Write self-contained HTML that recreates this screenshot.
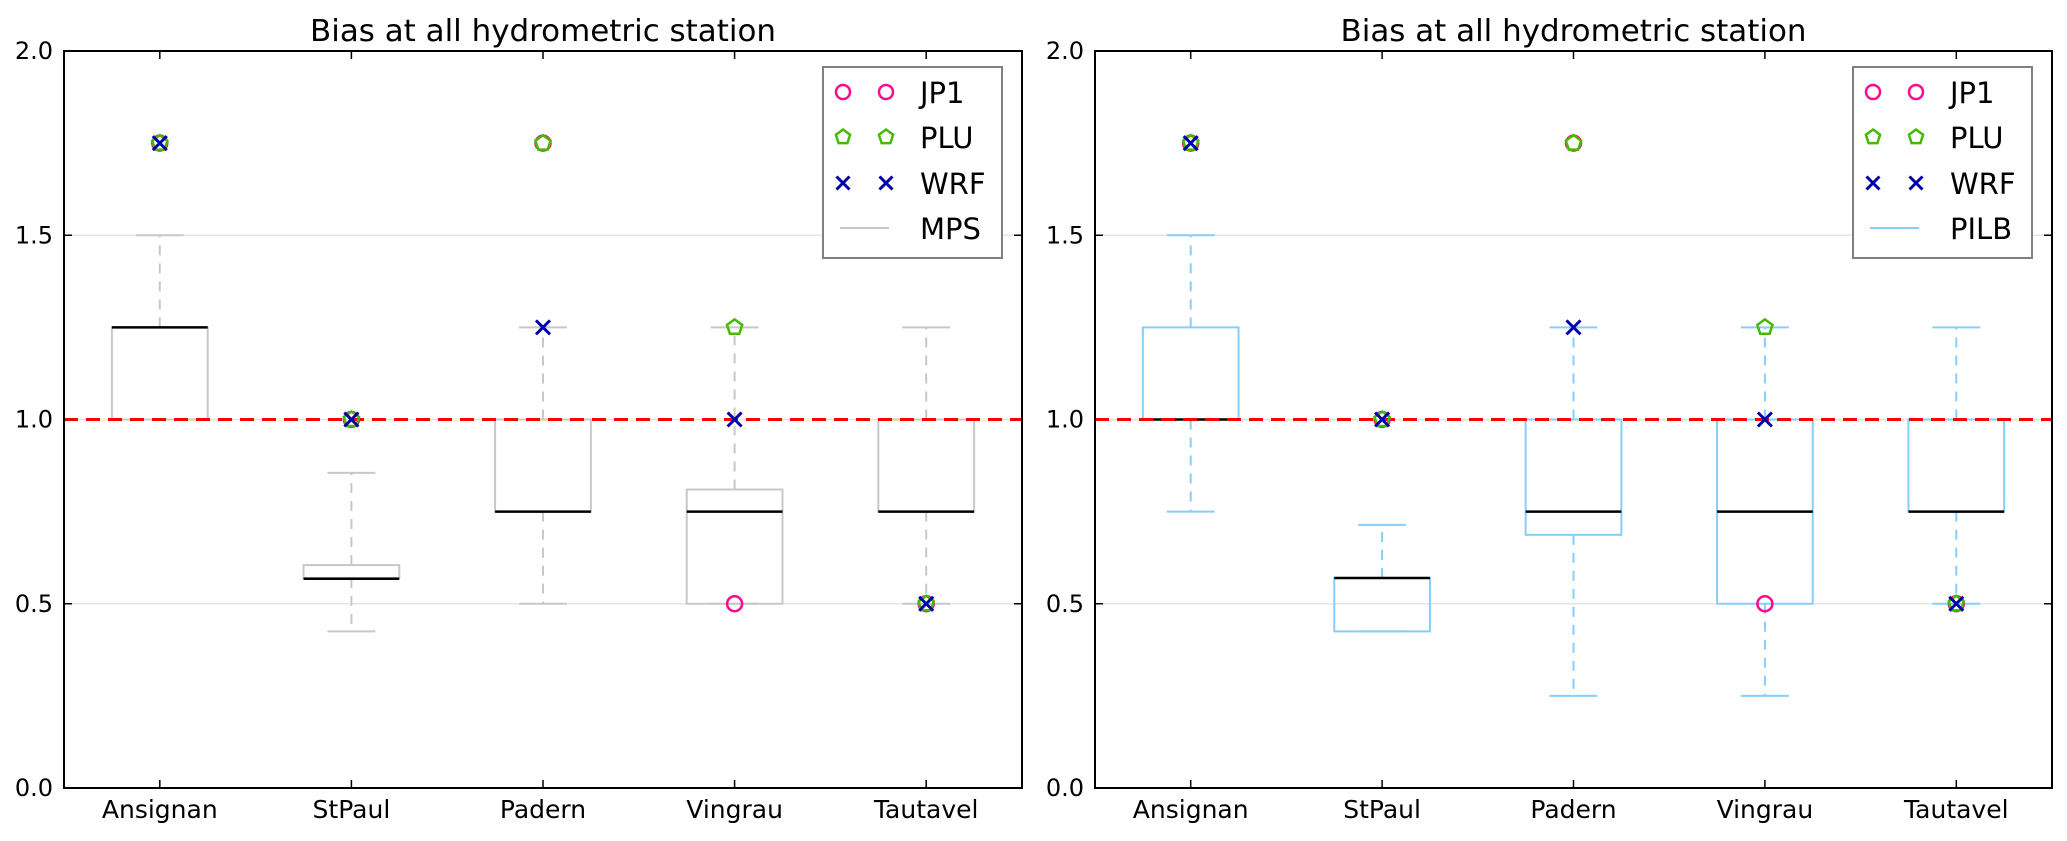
<!DOCTYPE html>
<html><head><meta charset="utf-8"><style>
html,body{margin:0;padding:0;background:#fff;}
svg{display:block;font-family:"DejaVu Sans","Liberation Sans",sans-serif;}
</style></head><body>
<svg id="fig" width="2067" height="841" viewBox="0 0 2067 841" xmlns="http://www.w3.org/2000/svg"></svg>
<script>
const categories = ["Ansignan","StPaul","Padern","Vingrau","Tautavel"];
const yTicks = [0.0,0.5,1.0,1.5,2.0];
const yTickLabels = ["0.0","0.5","1.0","1.5","2.0"];
// MPS boxplot stats
const mpsQ1 = [1.0,0.57,0.75,0.5,0.75];
const mpsQ3 = [1.25,0.605,1.0,0.81,1.0];
const mpsMed = [1.25,0.568,0.75,0.75,0.75];
const mpsLo = [1.0,0.425,0.5,0.5,0.5];
const mpsHi = [1.5,0.855,1.25,1.25,1.25];
// PILB boxplot stats
const pilbQ1 = [1.0,0.425,0.687,0.5,0.75];
const pilbQ3 = [1.25,0.57,1.0,1.0,1.0];
const pilbMed = [1.0,0.57,0.75,0.75,0.75];
const pilbLo = [0.75,0.425,0.25,0.25,0.5];
const pilbHi = [1.5,0.714,1.25,1.25,1.25];
// point series
const jp1 = [1.75,1.0,1.75,0.5,0.5];
const plu = [1.75,1.0,1.75,1.25,0.5];
const wrf = [1.75,1.0,1.25,1.0,0.5];
const refLine = 1.0;

const NS="http://www.w3.org/2000/svg";
const svg=document.getElementById('fig');
function mk(tag,attrs,parent){const e=document.createElementNS(NS,tag);for(const k in attrs)e.setAttribute(k,attrs[k]);(parent||svg).appendChild(e);return e;}
const JP1C="#ff0a8c",PLUC="#44bb00",WRFC="#0000aa";

function circle(g,cx,cy,r){return mk('circle',{cx:cx,cy:cy,r:r,fill:'none',stroke:JP1C,'stroke-width':2.5},g);}
function pent(g,cx,cy,r){let p=[];for(let i=0;i<5;i++){const a=-Math.PI/2+i*2*Math.PI/5;p.push((cx+r*Math.cos(a)).toFixed(1)+','+(cy+r*Math.sin(a)).toFixed(1));}return mk('polygon',{points:p.join(' '),fill:'none',stroke:PLUC,'stroke-width':2.5},g);}
function cross(g,cx,cy,r){return mk('path',{d:`M${cx-r},${cy-r}L${cx+r},${cy+r}M${cx-r},${cy+r}L${cx+r},${cy-r}`,stroke:WRFC,'stroke-width':3,fill:'none'},g);}

function panel(x0,x1,name,boxColor,q1,q3,med,lo,hi,legendName){
  const y0=51,y1=788;
  const g=mk('g',{});
  
  
  const sx=v=>x0+(v-0.5)/5*(x1-x0);
  const sy=v=>y1-v/2*(y1-y0);
  const t=mk('text',{x:(x0+x1)/2,y:41,'text-anchor':'middle','font-size':30,fill:'#000',textLength:466,lengthAdjust:'spacingAndGlyphs'},g);
  t.textContent='Bias at all hydrometric station';
  
  
  yTicks.forEach((v,i)=>{
    if(v>0&&v<2){const l=mk('line',{x1:x0,x2:x1,y1:sy(v),y2:sy(v),stroke:'#e6e6e6','stroke-width':1.5},g);
      
      }
    const tl=mk('text',{x:x0-11,y:sy(v)+8,'text-anchor':'end','font-size':24,fill:'#000'},g);
    tl.textContent=yTickLabels[i];
    
    
    mk('line',{x1:x0,x2:x0+8,y1:sy(v),y2:sy(v),stroke:'#000','stroke-width':1.5},g);
    mk('line',{x1:x1,x2:x1-8,y1:sy(v),y2:sy(v),stroke:'#000','stroke-width':1.5},g);
  });
  categories.forEach((c,i)=>{
    const cx=sx(i+1),hw=(x1-x0)/5*0.25,cw=(x1-x0)/5*0.125;
    const bg=mk('g',{},g);
    
    
    mk('line',{x1:cx,x2:cx,y1:sy(q3[i]),y2:sy(hi[i]),stroke:boxColor,'stroke-width':2,'stroke-dasharray':'10,8'},bg);
    mk('line',{x1:cx,x2:cx,y1:sy(q1[i]),y2:sy(lo[i]),stroke:boxColor,'stroke-width':2,'stroke-dasharray':'10,8'},bg);
    mk('line',{x1:cx-cw,x2:cx+cw,y1:sy(hi[i]),y2:sy(hi[i]),stroke:boxColor,'stroke-width':2},bg);
    mk('line',{x1:cx-cw,x2:cx+cw,y1:sy(lo[i]),y2:sy(lo[i]),stroke:boxColor,'stroke-width':2},bg);
    mk('rect',{x:cx-hw,y:sy(q3[i]),width:2*hw,height:sy(q1[i])-sy(q3[i]),fill:'none',stroke:boxColor,'stroke-width':2},bg);
    mk('line',{x1:cx-hw,x2:cx+hw,y1:sy(med[i]),y2:sy(med[i]),stroke:'#000','stroke-width':2.5},bg);
    const xl=mk('text',{x:cx,y:818,'text-anchor':'middle','font-size':25,fill:'#000'},g);
    xl.textContent=c;
    
    
    mk('line',{x1:cx,x2:cx,y1:y1,y2:y1-8,stroke:'#000','stroke-width':1.5},g);
    mk('line',{x1:cx,x2:cx,y1:y0,y2:y0+8,stroke:'#000','stroke-width':1.5},g);
  });
  const rl=mk('line',{x1:x0,x2:x1,y1:sy(refLine),y2:sy(refLine),stroke:'#ff0000','stroke-width':3,'stroke-dasharray':'14,8'},g);
  
  
  categories.forEach((c,i)=>{
    const cx=sx(i+1);
    const a=circle(g,cx,sy(jp1[i]),7.5);
    
    
    const b=pent(g,cx,sy(plu[i]),8);
    
    
    const d=cross(g,cx,sy(wrf[i]),7);
    
    
  });
  mk('rect',{x:x0,y:y0,width:x1-x0,height:y1-y0,fill:'none',stroke:'#000','stroke-width':2},g);
  const lx=x1-199,ly=67;
  const lg=mk('g',{},g);
  
  
  mk('rect',{x:lx,y:ly,width:179,height:191,fill:'#fff',stroke:'#808080','stroke-width':2},lg);
  const rows=[92,137,183,228],names=['JP1','PLU','WRF',legendName];
  const m1=lx+20,m2=lx+63,tx=lx+97;
  circle(lg,m1,rows[0],7);circle(lg,m2,rows[0],7);
  pent(lg,m1,rows[1],7.5);pent(lg,m2,rows[1],7.5);
  cross(lg,m1,rows[2],6.5);cross(lg,m2,rows[2],6.5);
  mk('line',{x1:m1-3,x2:m2+3,y1:rows[3],y2:rows[3],stroke:boxColor,'stroke-width':2},lg);
  names.forEach((n,i)=>{
    const e=mk('text',{x:tx,y:rows[i]+11,'font-size':29,fill:'#000'},lg);
    e.textContent=n;
    
    
  });
}
panel(64,1022,'mps-panel','#c8c8c8',mpsQ1,mpsQ3,mpsMed,mpsLo,mpsHi,'MPS');
panel(1095,2052,'pilb-panel','#87cefa',pilbQ1,pilbQ3,pilbMed,pilbLo,pilbHi,'PILB');
</script>
</body></html>
